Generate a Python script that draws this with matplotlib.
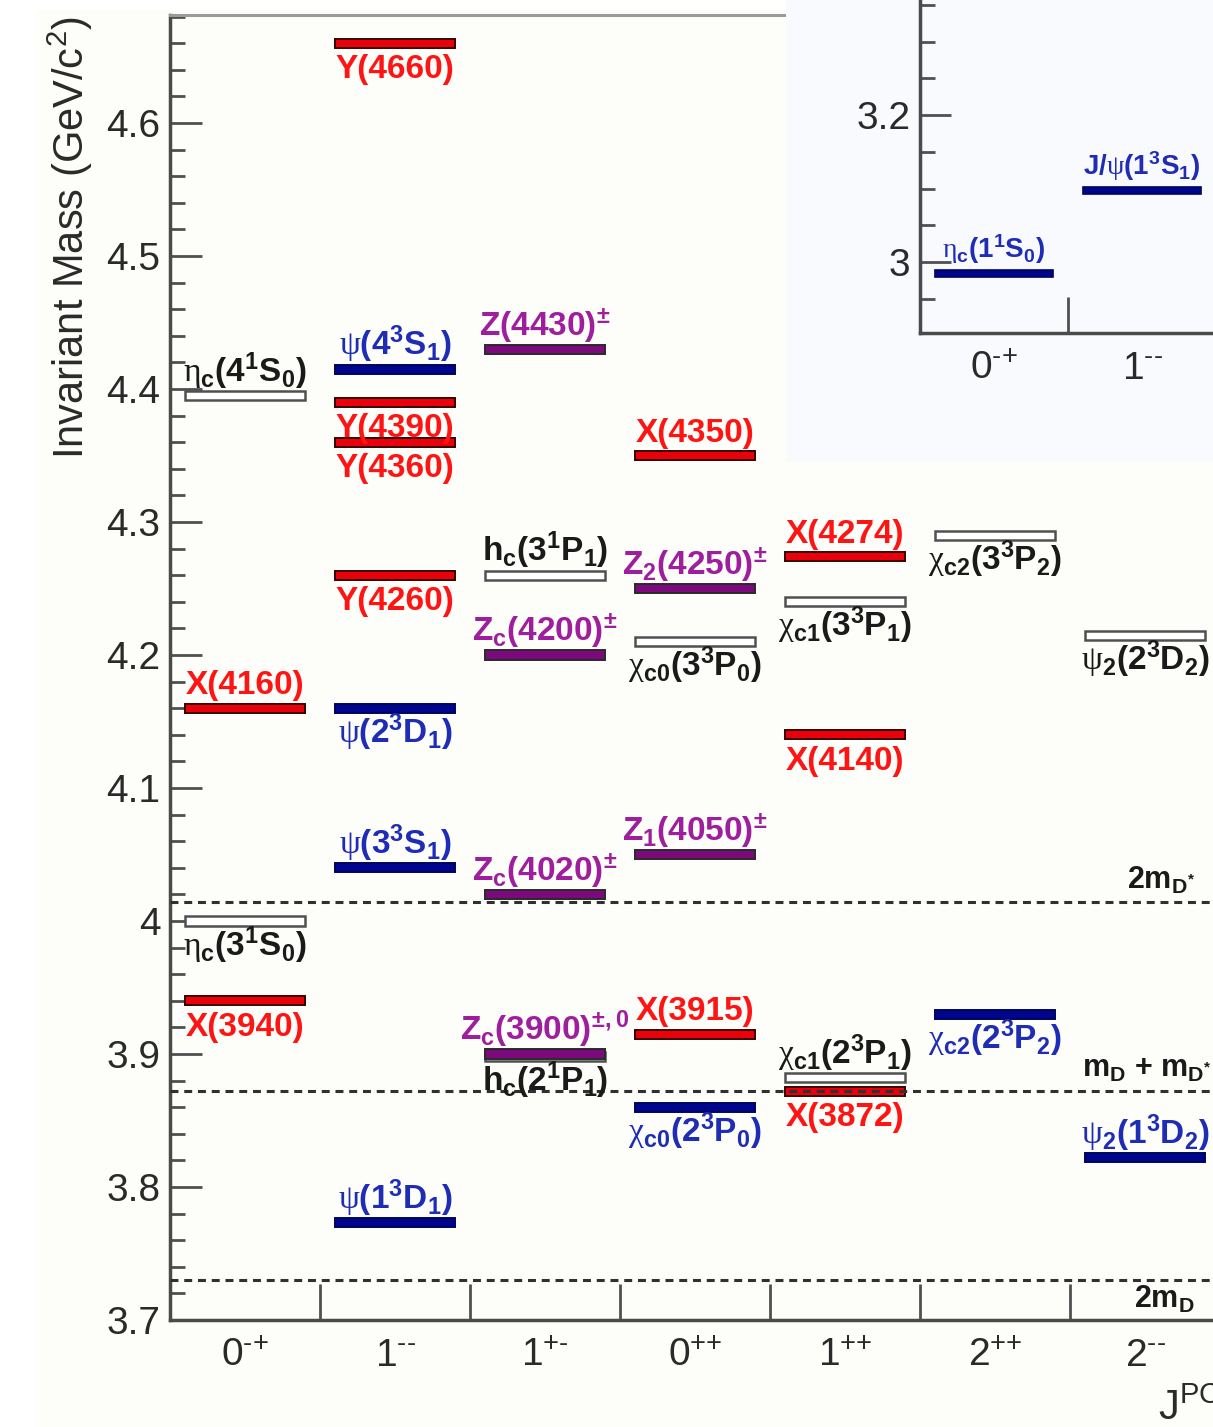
import numpy as np
import matplotlib
matplotlib.use('Agg')
import matplotlib.pyplot as plt
from matplotlib.patches import Rectangle

plt.rcParams['font.family'] = ['Liberation Sans', 'DejaVu Sans']
plt.rcParams['mathtext.fontset'] = 'custom'
plt.rcParams['mathtext.rm'] = 'Liberation Serif'
plt.rcParams['mathtext.default'] = 'regular'

# J^PC columns of the level scheme (hyphen + braced plus keep the superscripts tight)
jpc = [r'0$^{‐{+}}$', r'1$^{‐‐}$', r'1$^{{+}‐}$', r'0$^{{+}{+}}$', r'1$^{{+}{+}}$',
       r'2$^{{+}{+}}$', r'2$^{‐‐}$']

# states: label, mass (GeV), column, kind, label above/below
names = [
    r'$\mathrm{\eta}_c$(4$^1$S$_0$)', 'X(4160)', r'$\mathrm{\eta}_c$(3$^1$S$_0$)', 'X(3940)',
    'Y(4660)', r'$\mathrm{\psi}$(4$^3$S$_1$)', 'Y(4390)', 'Y(4360)', 'Y(4260)',
    r'$\mathrm{\psi}$(2$^3$D$_1$)', r'$\mathrm{\psi}$(3$^3$S$_1$)', r'$\mathrm{\psi}$(1$^3$D$_1$)',
    r'Z(4430)$^{\pm}$', r'h$_c$(3$^1$P$_1$)', r'Z$_c$(4200)$^{\pm}$', r'Z$_c$(4020)$^{\pm}$',
    r'h$_c$(2$^1$P$_1$)', r'Z$_c$(3900)$^{\pm,0}$',
    'X(4350)', r'Z$_2$(4250)$^{\pm}$', r'$\mathrm{\chi}_{c0}$(3$^3$P$_0$)', r'Z$_1$(4050)$^{\pm}$',
    'X(3915)', r'$\mathrm{\chi}_{c0}$(2$^3$P$_0$)',
    'X(4274)', r'$\mathrm{\chi}_{c1}$(3$^3$P$_1$)', 'X(4140)', r'$\mathrm{\chi}_{c1}$(2$^3$P$_1$)', 'X(3872)',
    r'$\mathrm{\chi}_{c2}$(3$^3$P$_2$)', r'$\mathrm{\chi}_{c2}$(2$^3$P$_2$)',
    r'$\mathrm{\psi}_2$(2$^3$D$_2$)', r'$\mathrm{\psi}_2$(1$^3$D$_2$)',
]
masses = [4.395, 4.160, 4.000, 3.940,
          4.660, 4.415, 4.390, 4.360, 4.260, 4.160, 4.040, 3.773,
          4.430, 4.260, 4.200, 4.020, 3.898, 3.900,
          4.350, 4.250, 4.210, 4.050, 3.915, 3.860,
          4.274, 4.240, 4.140, 3.882, 3.872,
          4.290, 3.930,
          4.215, 3.822]
cols = [0, 0, 0, 0,
        1, 1, 1, 1, 1, 1, 1, 1,
        2, 2, 2, 2, 2, 2,
        3, 3, 3, 3, 3, 3,
        4, 4, 4, 4, 4,
        5, 5,
        6, 6]
kinds = ['pred', 'exo', 'pred', 'exo',
         'exo', 'cc', 'exo', 'exo', 'exo', 'cc', 'cc', 'cc',
         'charged', 'pred', 'charged', 'charged', 'pred', 'charged',
         'exo', 'charged', 'pred', 'charged', 'exo', 'cc',
         'exo', 'pred', 'exo', 'pred', 'exo',
         'pred', 'cc',
         'pred', 'cc']
sides = ['a', 'a', 'b', 'b',
         'b', 'a', 'b', 'b', 'b', 'b', 'a', 'a',
         'a', 'a', 'a', 'a', 'b', 'a',
         'a', 'a', 'b', 'a', 'a', 'b',
         'a', 'b', 'b', 'a', 'b',
         'b', 'b',
         'b', 'a']

# open-charm thresholds
thr_names = [r'2m$_{D^{*}}$', r'm$_D$ + m$_{D^{*}}$', r'2m$_D$']
thr_masses = [4.014, 3.872, 3.730]
thr_sides = ['a', 'a', 'b']

# low-lying states in the inset
low_names = [r'$\mathrm{\eta}_c$(1$^1$S$_0$)', r'J/$\mathrm{\psi}$(1$^3$S$_1$)']
low_masses = [2.984, 3.097]
low_jpc = [r'0$^{‐{+}}$', r'1$^{‐‐}$']

face = {'exo': '#e8000a', 'cc': '#00068c', 'charged': '#7c0a7c', 'pred': 'white'}
edge = {'exo': '#3a0000', 'cc': '#00045e', 'charged': '#2a2a2a', 'pred': '#505050'}
tcol = {'exo': '#ff1414', 'cc': '#1e2cb6', 'charged': '#9e1e9e', 'pred': '#1a1a1a'}
order = {'pred': 2, 'exo': 3, 'cc': 3, 'charged': 3}
elw = {'pred': 1.8, 'exo': 1.4, 'cc': 1.4, 'charged': 1.4}

W, H = 1213, 1427
fig = plt.figure(figsize=(W / 100, H / 100), dpi=100, facecolor='white')
fig.add_artist(Rectangle((35 / W, 0), 1 - 35 / W, 1 - 10 / H, transform=fig.transFigure,
                         facecolor='#fdfdf9', edgecolor='none', zorder=-5))

ax = fig.add_axes([170 / W, 107 / H, 1050 / W, 1305 / H])
ax.set_facecolor('none')
ax.set_xlim(0, 7)
ax.set_ylim(3.7, 3.7 + 1305 / 1330)

bar_h = 0.0068
for name, m, c, k, s in zip(names, masses, cols, kinds, sides):
    ax.barh(m, 0.8, left=c + 0.1, height=bar_h, color=face[k], edgecolor=edge[k],
            linewidth=elw[k], zorder=order[k])
    dy = 10 if s == 'a' else -25
    ax.annotate(name, (c + 0.5, m), xytext=(0, dy), textcoords='offset points',
                ha='center', va='baseline', fontsize=24, fontweight='bold',
                color=tcol[k], zorder=5)

# threshold labels sit right-aligned near the right edge
for name, m, s in zip(thr_names, thr_masses, thr_sides):
    ax.axhline(m, color='#303030', lw=2.2, ls=(0, (2.6, 1.9)), zorder=4)
    dy = 10 if s == 'a' else -20
    xr = 6.94 if '+' in name else 6.83
    ax.annotate(name, (xr, m), xytext=(0, dy), textcoords='offset points',
                ha='right', va='baseline', fontsize=22, fontweight='bold',
                color='#1a1a1a', zorder=5)

# axis styling
ax.set_yticks(np.arange(3.7, 4.65, 0.1))
ax.set_yticklabels([f'{v:g}' for v in np.round(np.arange(3.7, 4.65, 0.1), 1)])
ax.set_yticks(np.arange(3.7, 4.69, 0.02), minor=True)
ax.tick_params(axis='y', which='major', direction='in', length=23, width=2,
               color='#505050', labelsize=28, labelcolor='#2a2a2a', pad=7)
ax.tick_params(axis='y', which='minor', direction='in', length=11, width=2, color='#505050')
ax.set_xticks(np.arange(1, 8))
ax.set_xticklabels([])
ax.set_xticks(np.arange(7) + 0.5, minor=True)
ax.set_xticklabels(jpc, minor=True)
ax.tick_params(axis='x', which='major', direction='in', length=26, width=2, color='#505050')
ax.tick_params(axis='x', which='minor', length=0, labelsize=28, labelcolor='#2a2a2a', pad=13)
for sp in ['left', 'bottom']:
    ax.spines[sp].set_color('#4a4a4a')
    ax.spines[sp].set_linewidth(2.5)
ax.spines['top'].set_color('#9a9a9a')
ax.spines['top'].set_linewidth(2.2)
ax.spines['right'].set_visible(False)

fig.text(70 / W, 1 - 238 / H, r'Invariant Mass (GeV/c$^{2}$)', rotation=90,
         ha='center', va='center', fontsize=30, color='#2a2a2a')
fig.text(1158 / W, 1 - 1389 / H, r'J$^{PC}$', ha='left', va='top', fontsize=30, color='#2a2a2a')

# inset with the ground states
fig.add_artist(Rectangle((786 / W, 1 - 462 / H), 427 / W, 462 / H, transform=fig.transFigure,
                         facecolor='#f9fafd', edgecolor='none', zorder=1))
ins = fig.add_axes([920 / W, 1 - 333 / H, 296 / W, 333 / H], zorder=2)
ins.set_facecolor('none')
ins.set_xlim(0, 2)
ins.set_ylim(3.0 - 71 / 735, 3.0 + 262 / 735)
for i, (name, m) in enumerate(zip(low_names, low_masses)):
    ins.barh(m, 0.8, left=i + 0.1, height=0.0095, color=face['cc'], edgecolor=edge['cc'],
             linewidth=1.2, zorder=3)
    ins.annotate(name, (i + 0.5, m), xytext=(0, 11), textcoords='offset points',
                 ha='center', va='baseline', fontsize=20, fontweight='bold', color=tcol['cc'])
ins.set_yticks([3.0, 3.2])
ins.set_yticklabels(['3', '3.2'])
ins.set_yticks(np.arange(2.95, 3.36, 0.05), minor=True)
ins.tick_params(axis='y', which='major', direction='in', length=22, width=2,
                color='#505050', labelsize=28, labelcolor='#2a2a2a', pad=7)
ins.tick_params(axis='y', which='minor', direction='in', length=11, width=2, color='#505050')
ins.set_xticks([1, 2])
ins.set_xticklabels([])
ins.set_xticks([0.5, 1.5], minor=True)
ins.set_xticklabels(low_jpc, minor=True)
ins.tick_params(axis='x', which='major', direction='in', length=26, width=2, color='#505050')
ins.tick_params(axis='x', which='minor', length=0, labelsize=28, labelcolor='#2a2a2a', pad=13)
for sp in ['left', 'bottom']:
    ins.spines[sp].set_color('#4a4a4a')
    ins.spines[sp].set_linewidth(2.5)
ins.spines['top'].set_visible(False)
ins.spines['right'].set_visible(False)

fig.savefig('out.png', dpi=100, facecolor=fig.get_facecolor())
